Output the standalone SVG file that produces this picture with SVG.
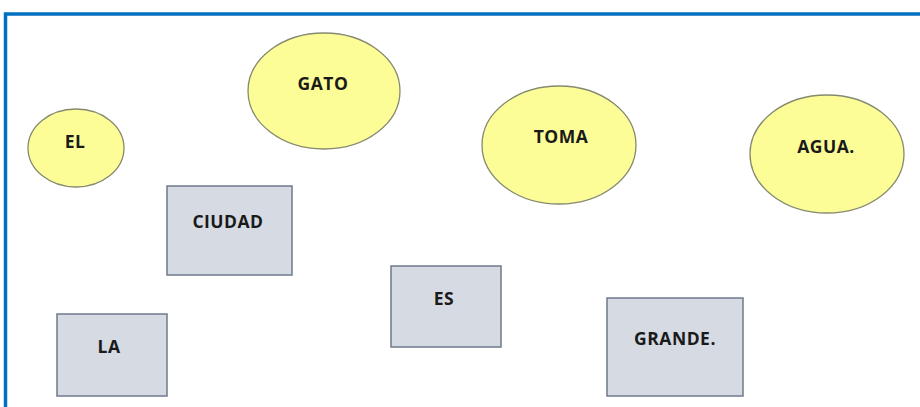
<svg xmlns="http://www.w3.org/2000/svg" width="920" height="407" viewBox="0 0 920 407">
<style>
.c{fill:#fdfd98;stroke:#858a6e;stroke-width:1.3}
.r{fill:#d5dae3;stroke:#6f7a8c;stroke-width:1.5}
.t{font-family:"Open Sans","Liberation Sans",Arial,sans-serif;font-weight:bold;font-size:17.5px;letter-spacing:0.5px;fill:#1a1a1a;text-anchor:middle}
</style>
<rect width="920" height="407" fill="#ffffff"/>
<g id="frame"><path d="M5.5,407 V14 H920" fill="none" stroke="#0070c0" stroke-width="3.5"/></g>
<g id="connectors"></g>
<g id="n-el"><ellipse class="c" cx="76" cy="148" rx="48" ry="39"/><text class="t" x="75" y="148">EL</text></g>
<g id="n-gato"><ellipse class="c" cx="324" cy="91" rx="76" ry="58"/><text class="t" x="323" y="90">GATO</text></g>
<g id="n-toma"><ellipse class="c" cx="559" cy="145" rx="77" ry="59"/><text class="t" x="561" y="143">TOMA</text></g>
<g id="n-agua"><ellipse class="c" cx="827" cy="154" rx="77" ry="59"/><text class="t" x="826" y="153">AGUA.</text></g>
<g id="n-ciudad"><rect class="r" x="167" y="186" width="125" height="89"/><text class="t" x="228" y="228">CIUDAD</text></g>
<g id="n-es"><rect class="r" x="391" y="266" width="110" height="81"/><text class="t" x="444" y="305">ES</text></g>
<g id="n-grande"><rect class="r" x="607" y="298" width="136" height="98"/><text class="t" x="675" y="345">GRANDE.</text></g>
<g id="n-la"><rect class="r" x="57" y="314" width="110" height="82"/><text class="t" x="109" y="353">LA</text></g>
</svg>
